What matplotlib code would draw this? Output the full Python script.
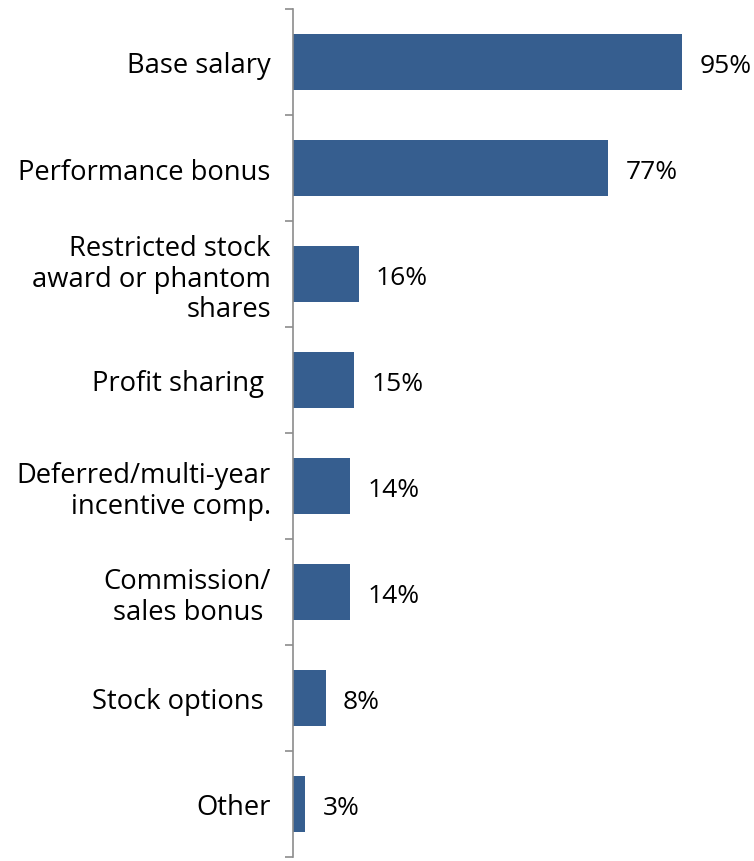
import matplotlib
matplotlib.use("Agg")
import matplotlib.pyplot as plt

# Compensation components and share of respondents (%)
categories = ["Base salary", "Performance bonus",
              "Restricted stock\naward or phantom\nshares",
              "Profit sharing ", "Deferred/multi-year\nincentive comp.",
              "Commission/\nsales bonus ", "Stock options ", "Other"]
values = [95, 77, 16, 15, 14, 14, 8, 3]

plt.rcParams['font.family'] = ['Open Sans', 'DejaVu Sans']

fig = plt.figure(figsize=(7.54, 8.62), dpi=100)
ax = fig.add_axes([293 / 754, 4 / 862, 409.6 / 754, 848 / 862])

pos = list(range(len(categories)))
ax.barh(pos, values, height=0.53, color='#365E8F')
for y, v in zip(pos, values):
    ax.text(v + 4.2, y + 0.03, "%d%%" % v, va='center', ha='left', fontsize=19)

ax.set_xlim(0, 100)
ax.set_ylim(len(categories) - 0.5, -0.5)

ax.set_yticks(pos)
ax.set_yticklabels(categories, fontsize=19.7, linespacing=1.1)
ax.tick_params(axis='y', which='major', length=0, pad=16)
ax.set_yticks([p - 0.5 for p in pos] + [len(pos) - 0.5], minor=True)
ax.tick_params(axis='y', which='minor', length=6, width=1.2, color='#8c8c8c')
ax.set_xticks([])

for side in ['top', 'right', 'bottom']:
    ax.spines[side].set_visible(False)
ax.spines['left'].set_color('#8c8c8c')
ax.spines['left'].set_linewidth(1.2)

fig.savefig("out.png", dpi=100)
